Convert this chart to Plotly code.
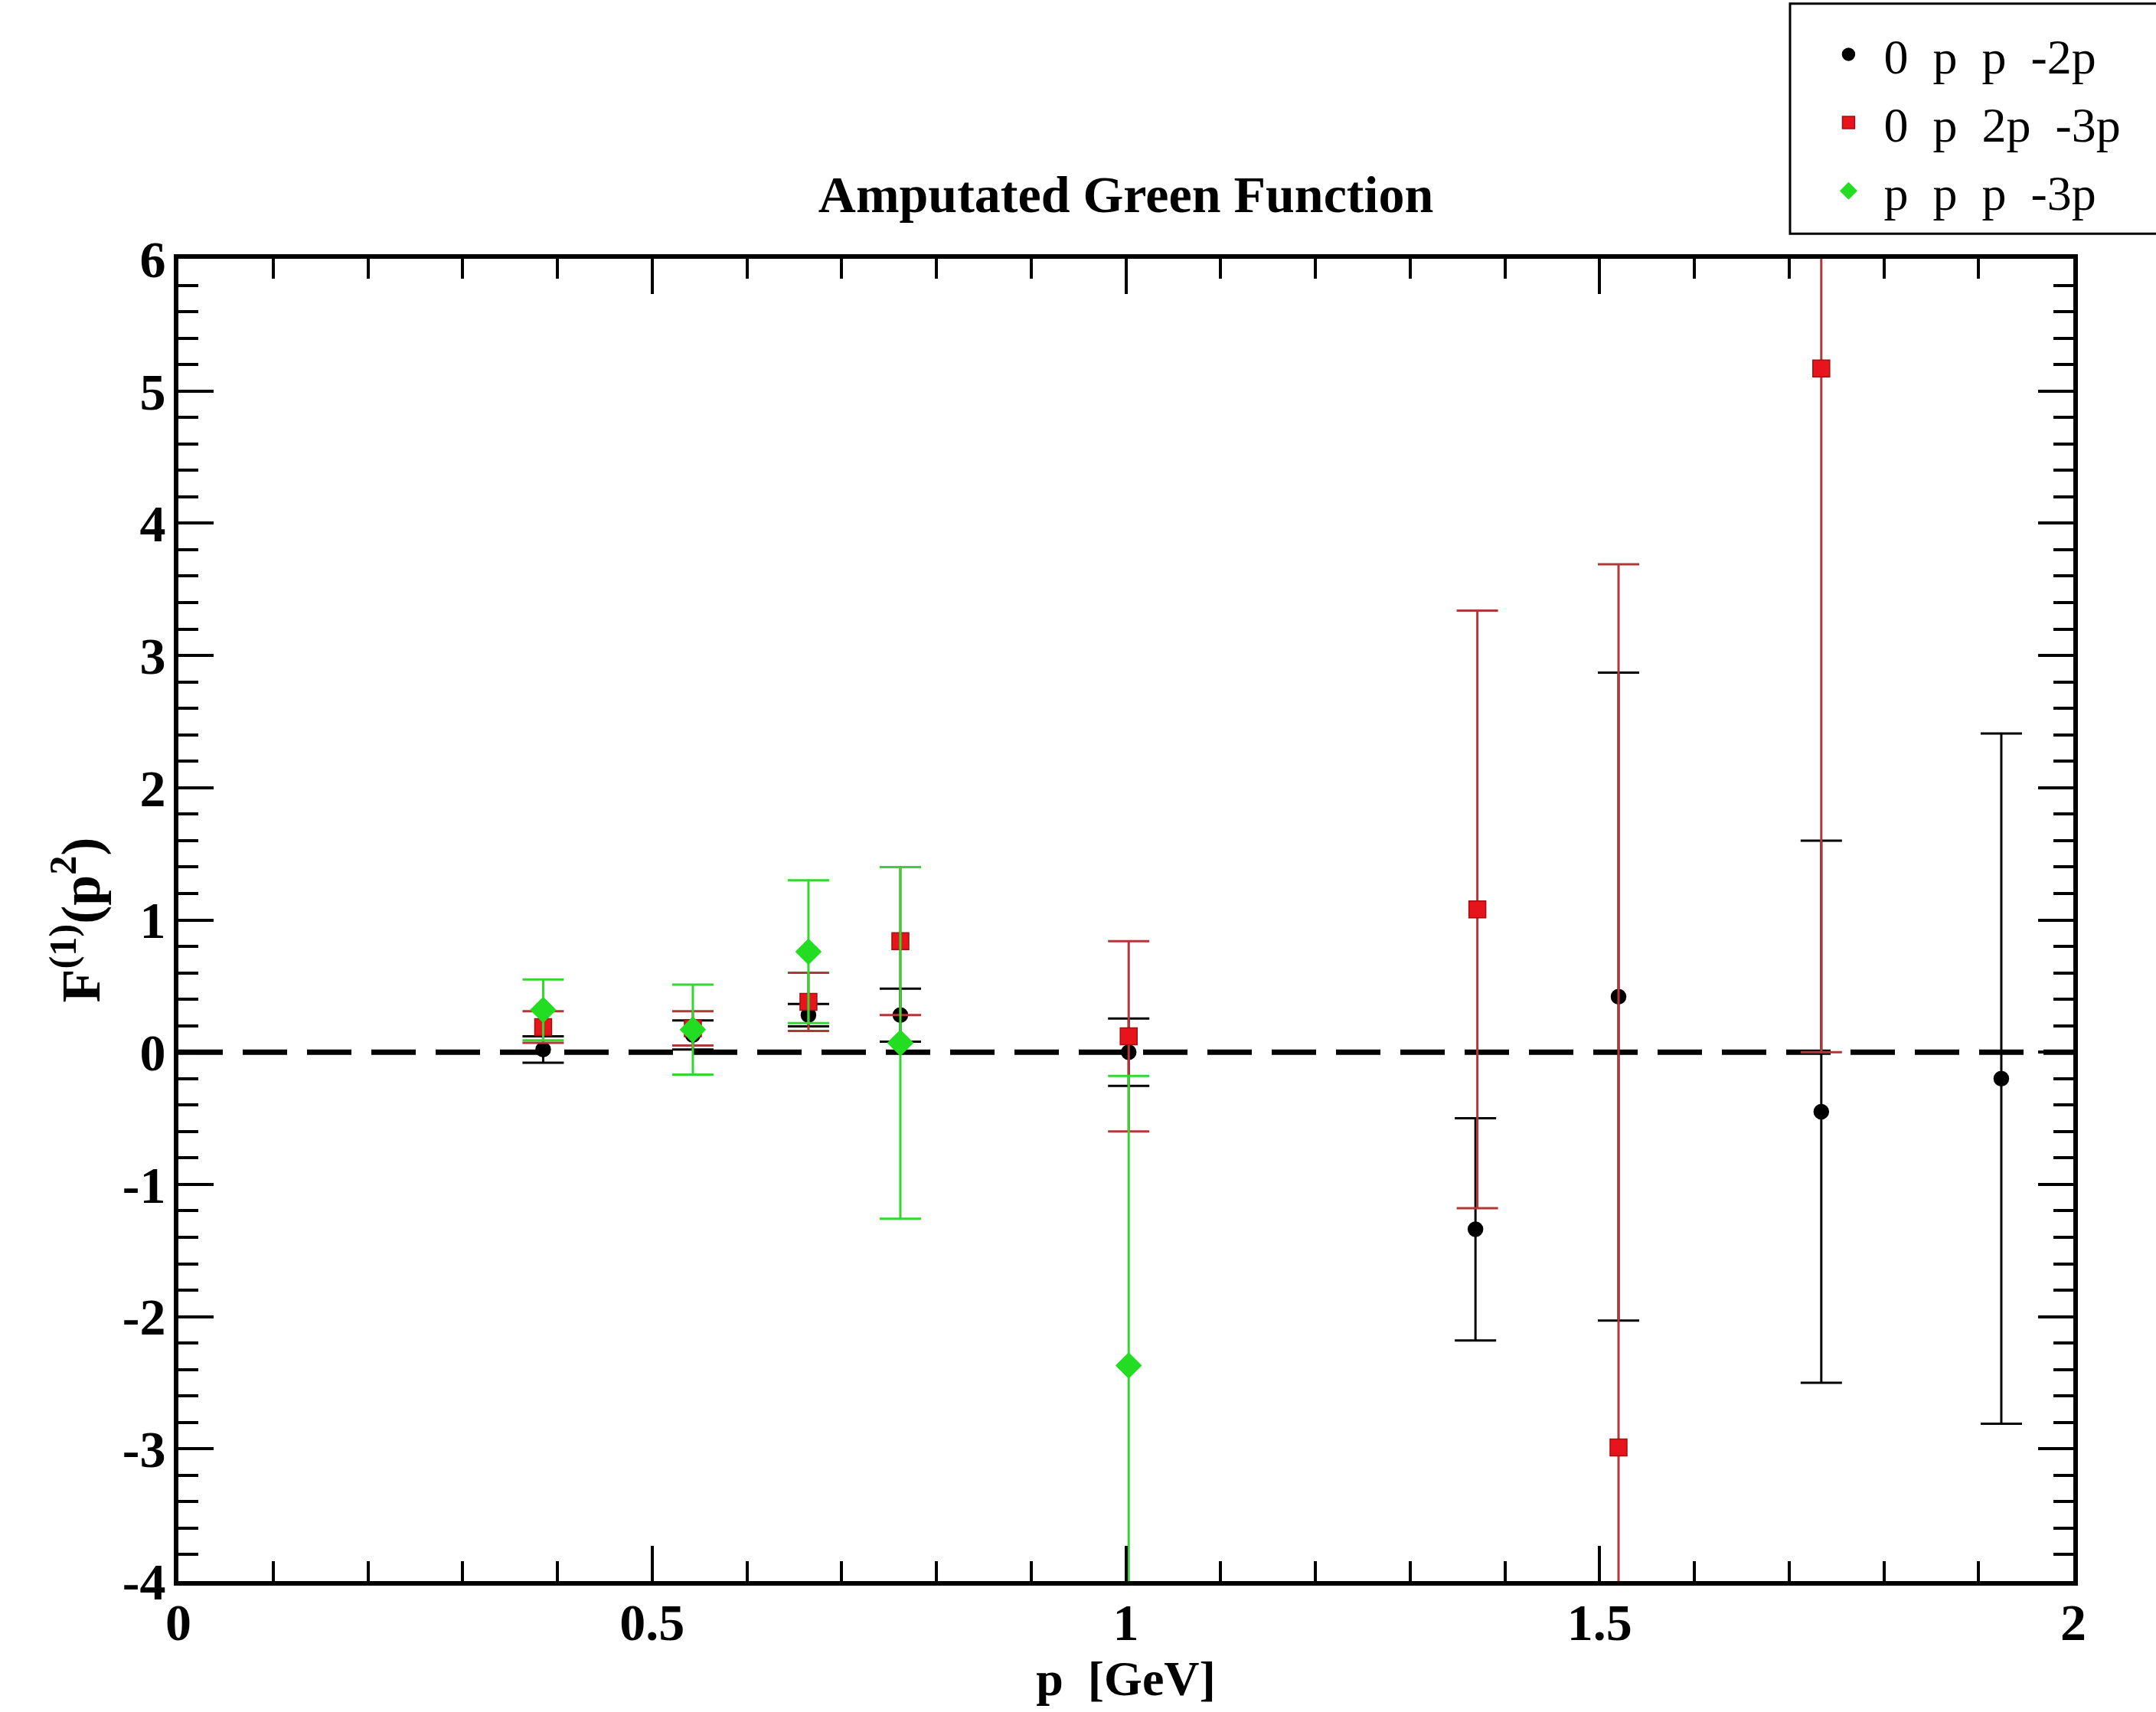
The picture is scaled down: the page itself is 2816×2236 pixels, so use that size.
import plotly.graph_objects as go

# ---- data ----
series_names = ["0\u00a0 p\u00a0 p\u00a0 -2p", "0\u00a0 p\u00a0 2p\u00a0 -3p", "p\u00a0 p\u00a0 p\u00a0 -3p"]

x_black = [0.385, 0.543, 0.665, 0.762, 1.003, 1.369, 1.520, 1.734, 1.924]
y_black = [0.02, 0.13, 0.28, 0.28, 0.00, -1.34, 0.42, -0.45, -0.20]
e_black = [0.10, 0.11, 0.085, 0.20, 0.255, 0.84, 2.45, 2.05, 2.61]

x_red = [0.385, 0.543, 0.665, 0.762, 1.003, 1.371, 1.520, 1.734]
y_red = [0.19, 0.18, 0.38, 0.84, 0.12, 1.08, -2.99, 5.17]
e_red = [0.12, 0.13, 0.22, 0.56, 0.72, 2.26, 6.68, 5.17]

x_green = [0.385, 0.543, 0.665, 0.762, 1.003]
y_green = [0.32, 0.17, 0.76, 0.07, -2.37]
e_green = [0.23, 0.34, 0.54, 1.33, 2.19]

x_tickvals = [0, 0.5, 1, 1.5, 2]
x_ticktext = ["0", "0.5", "1", "1.5", "2"]
y_tickvals = [-4, -3, -2, -1, 0, 1, 2, 3, 4, 5, 6]
y_ticktext = ["-4", "-3", "-2", "-1", "0", "1", "2", "3", "4", "5", "6"]

x_range = [0, 2]
y_range = [-4, 6]
zero_level = 0

FONT = "Liberation Serif"

fig = go.Figure()

def add_series(x, y, e, name, symbol, size, color, line_color, err_color, group):
    fig.add_trace(go.Scatter(
        x=x, y=y, mode="markers", name=name, legendgroup=group,
        marker=dict(symbol=symbol, size=size, color=color,
                    line=dict(color=line_color, width=1.5)),
        error_y=dict(type="data", array=e, visible=True, color=err_color,
                     thickness=3, width=27),
    ))

add_series(x_black, y_black, e_black, series_names[0], "circle", 19,
           "black", "black", "black", "g1")
add_series(x_red, y_red, e_red, series_names[1], "square", 22,
           "#e8141c", "#a01010", "#b03838", "g2")
add_series(x_green, y_green, e_green, series_names[2], "diamond", 25,
           "#22dd22", "#22dd22", "#33d633", "g3")

# dashed zero line
fig.add_shape(type="line", xref="x", yref="y", x0=x_range[0], x1=x_range[1],
              y0=zero_level, y1=zero_level,
              line=dict(color="black", width=7, dash="58px,26px"), layer="below")

# legend frame (drawn separately so the entries can sit further right)
fig.add_shape(type="rect", xref="paper", yref="paper",
              x0=0.8505, x1=1.06, y0=1.019, y1=1.193,
              line=dict(color="black", width=3), fillcolor="white", layer="above")

axis_common = dict(
    showgrid=False, zeroline=False, showline=True, linecolor="black",
    linewidth=6, mirror="allticks", ticks="inside", ticklen=46, tickwidth=4,
    tickcolor="black", tickmode="array",
    tickfont=dict(family=FONT, size=68, color="black", weight="bold"),
)

fig.update_xaxes(
    range=x_range, tickvals=x_tickvals, ticktext=x_ticktext, ticklabelstandoff=-11,
    minor=dict(dtick=0.1, tick0=0, ticks="inside", ticklen=26, tickwidth=4, tickcolor="black"),
    title=dict(text="<b>p  [GeV]</b>", font=dict(family=FONT, size=64, color="black"),
               standoff=0),
    **axis_common,
)
fig.update_yaxes(
    range=y_range, tickvals=y_tickvals, ticktext=y_ticktext, ticklabelstandoff=-3,
    minor=dict(dtick=0.2, tick0=0, ticks="inside", ticklen=26, tickwidth=4, tickcolor="black"),
    title=dict(text="<b>F<sup>(1)</sup>(p<sup>2</sup>)</b>",
               font=dict(family=FONT, size=72, color="black"), standoff=8),
    **axis_common,
)

fig.update_layout(
    width=2816, height=2236,
    margin=dict(l=233, r=108, t=338, b=171, autoexpand=False),
    paper_bgcolor="white", plot_bgcolor="white",
    font=dict(family=FONT, color="black"),
    title=dict(text="<b>Amputated Green Function</b>", x=0.5, xref="paper",
               xanchor="center", y=1 - 253 / 2236, yref="container", yanchor="middle",
               font=dict(family=FONT, size=68, color="black")),
    legend=dict(x=0.8628, y=1.1825, xanchor="left", yanchor="top",
                borderwidth=0, bgcolor="rgba(0,0,0,0)",
                font=dict(family=FONT, size=64, color="black"),
                tracegroupgap=3, itemwidth=82),
    showlegend=True,
)

fig.write_html("out.html")
